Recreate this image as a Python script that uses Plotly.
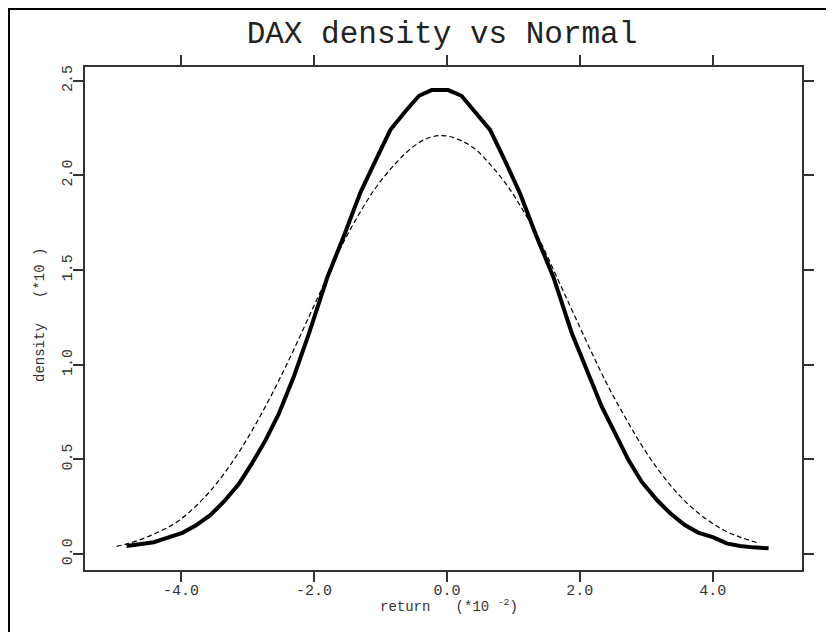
import plotly.graph_objects as go

# DAX kernel density (return in units of 1e-2, density in units of 10)
dax_x = [-4.82, -4.6, -4.41, -4.21, -3.98, -3.78, -3.56, -3.36, -3.13, -2.93, -2.73, -2.53,
         -2.3, -2.08, -1.8, -1.55, -1.3, -1.07, -0.85, -0.62, -0.42, -0.23, 0.02, 0.22,
         0.42, 0.65, 0.87, 1.10, 1.35, 1.60, 1.88, 2.10, 2.33, 2.53, 2.73, 2.93, 3.16,
         3.36, 3.58, 3.78, 4.01, 4.21, 4.41, 4.61, 4.84]
dax_y = [0.042, 0.050, 0.062, 0.085, 0.112, 0.150, 0.205, 0.275, 0.37, 0.48, 0.60, 0.74,
         0.94, 1.16, 1.46, 1.68, 1.91, 2.08, 2.24, 2.34, 2.42, 2.45, 2.45, 2.42,
         2.34, 2.24, 2.08, 1.905, 1.676, 1.465, 1.166, 0.972, 0.778, 0.638, 0.497, 0.382, 0.285,
         0.215, 0.153, 0.113, 0.088, 0.056, 0.042, 0.035, 0.030]

# Fitted normal density
norm_x = [-4.97, -4.83, -4.58, -4.33, -4.08, -3.83, -3.58, -3.33, -3.08, -2.83, -2.58, -2.33,
          -2.08, -1.83, -1.58, -1.33, -1.08, -0.83, -0.58, -0.33, -0.08, 0.17, 0.42, 0.67,
          0.92, 1.17, 1.42, 1.67, 1.92, 2.17, 2.42, 2.67, 2.92, 3.17, 3.42, 3.67, 3.92,
          4.17, 4.42, 4.67]
norm_y = [0.040, 0.052, 0.080, 0.118, 0.165, 0.235, 0.325, 0.435, 0.565, 0.715, 0.88, 1.06,
          1.25, 1.44, 1.63, 1.79, 1.93, 2.04, 2.13, 2.19, 2.21, 2.19, 2.14, 2.05,
          1.94, 1.80, 1.64, 1.45, 1.26, 1.07, 0.89, 0.73, 0.58, 0.45, 0.34, 0.25, 0.18,
          0.125, 0.088, 0.06]

x_ticks = [-4.0, -2.0, 0.0, 2.0, 4.0]
x_tick_text = ["-4.0", "-2.0", "0.0", "2.0", "4.0"]
y_ticks = [0.0, 0.5, 1.0, 1.5, 2.0, 2.5]
y_tick_text = ["0.0", "0.5", "1.0", "1.5", "2.0", "2.5"]

FONT = "Liberation Mono, Courier New, monospace"

fig = go.Figure()
fig.add_trace(go.Scatter(x=norm_x, y=norm_y, mode="lines", line_shape="spline",
                         line=dict(color="black", width=1.2, dash="5px,3px"),
                         showlegend=False))
fig.add_trace(go.Scatter(x=dax_x, y=dax_y, mode="lines",
                         line=dict(color="black", width=4),
                         showlegend=False))

# figure coordinates (page is offset by the 8px body margin)
L, R, T, B = 77, 40, 59, 70
W, H = 834, 632
pw, ph = W - L - R, H - T - B

def px2paper_x(px):
    return (px - L) / pw

def px2paper_y(py):
    return (H - B - py) / ph

axis_common = dict(showline=True, linecolor="#333", linewidth=1.5, mirror="ticks",
                   ticks="outside", ticklen=10, tickwidth=1.5, tickcolor="#333",
                   showgrid=False, zeroline=False, ticklabelstandoff=-5,
                   tickfont=dict(family=FONT, size=15, color="#333"))

fig.update_layout(
    width=W, height=H,
    margin=dict(l=L, r=R, t=T, b=B, autoexpand=False),
    paper_bgcolor="white", plot_bgcolor="white",
    title=dict(text="DAX density vs Normal", x=px2paper_x(434), xref="paper",
               xanchor="center", y=1 - 24 / H, yanchor="middle",
               font=dict(family=FONT, size=31, color="#222")),
    xaxis=dict(range=[-5.445, 5.343], tickvals=x_ticks, ticktext=x_tick_text, **axis_common),
    yaxis=dict(range=[-0.0845, 2.572], tickvals=y_ticks, ticktext=y_tick_text,
               tickangle=-90, **axis_common),
    annotations=[
        dict(text="return\u00a0\u00a0\u00a0(*10\u00a0<sup>-2</sup>)", xref="paper", yref="paper",
             x=px2paper_x(441), y=px2paper_y(598), xanchor="center", yanchor="middle",
             showarrow=False, font=dict(family=FONT, size=14, color="#333")),
        dict(text="density\u00a0\u00a0\u00a0(*10\u00a0)", xref="paper", yref="paper",
             x=px2paper_x(32), y=px2paper_y(307), xanchor="center", yanchor="middle",
             textangle=-90, showarrow=False, font=dict(family=FONT, size=14, color="#333")),
    ],
    shapes=[
        dict(type="rect", xref="paper", yref="paper",
             x0=px2paper_x(1), x1=px2paper_x(W + 20), y0=px2paper_y(H + 20), y1=px2paper_y(1),
             line=dict(color="black", width=2), fillcolor="rgba(0,0,0,0)", layer="above"),
    ],
)

fig.write_html("out.html")
